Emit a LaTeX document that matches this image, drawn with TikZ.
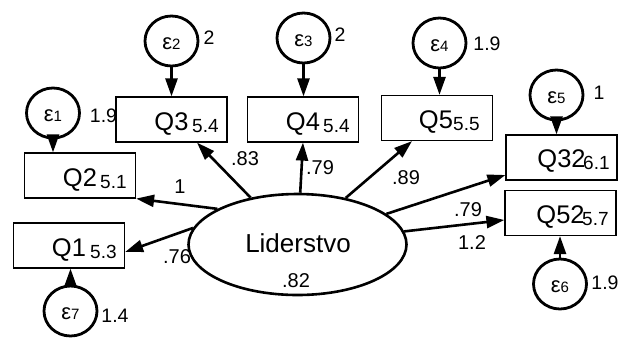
\documentclass[tikz,border=0pt]{standalone}
\usepackage{fontspec}
\setmainfont{Liberation Sans}
\usetikzlibrary{arrows.meta,shapes.geometric}
\begin{document}
\begin{tikzpicture}[x=1pt,y=-1pt,
  box/.style={draw, line width=1.2pt, minimum width=111pt, minimum height=45pt, inner sep=0pt},
  errc/.style={draw, ellipse, line width=2.8pt, minimum width=53pt, minimum height=50pt, inner sep=0pt, text height=16pt, text depth=0pt},
  latent/.style={draw, ellipse, line width=2.6pt, minimum width=218pt, minimum height=101pt, inner sep=0pt},
  arr/.style={line width=2.6pt, -{Triangle[length=18pt,width=12pt]}},
  big/.style={font=\fontsize{25.5}{25.5}\selectfont, inner sep=0pt},
  num/.style={font=\fontsize{19}{19}\selectfont, inner sep=0pt},
  coef/.style={font=\fontsize{20}{20}\selectfont, inner sep=0pt},
  var/.style={font=\fontsize{19.5}{19.5}\selectfont, inner sep=0pt},
]
\newcommand{\eps}[1]{{\fontsize{22}{22}\selectfont ε}{\fontsize{15}{15}\selectfont #1}}
\useasboundingbox (0,0) rectangle (620,338);

% observed boxes
\node[box] (Q3) at (171.5,119.5) {};
\node[box] (Q4) at (303,119.5) {};
\node[box] (Q5) at (437,118) {};
\node[box] (Q2) at (80,175.5) {};
\node[box] (Q1) at (69,245.5) {};
\node[box] (Q32) at (561.5,157.5) {};
\node[box] (Q52) at (560.5,213) {};

\node[big, anchor=base] (Q3t) at (171.5,130) {Q3};
\node[num, anchor=base west] (Q3n) at (192,132) {5.4};
\node[big, anchor=base] (Q4t) at (303,130) {Q4};
\node[num, anchor=base west] (Q4n) at (323,132) {5.4};
\node[big, anchor=base] (Q5t) at (436,128.5) {Q5};
\node[num, anchor=base west] (Q5n) at (453,130.5) {5.5};
\node[big, anchor=base] (Q2t) at (80,186) {Q2};
\node[num, anchor=base west] (Q2n) at (100,188) {5.1};
\node[big, anchor=base] (Q1t) at (69,256) {Q1};
\node[num, anchor=base west] (Q1n) at (90,258) {5.3};
\node[big, anchor=base] (Q32t) at (561.5,167.5) {Q32};
\node[num, anchor=base west] (Q32n) at (583,169.5) {6.1};
\node[big, anchor=base] (Q52t) at (560.5,223.5) {Q52};
\node[num, anchor=base west] (Q52n) at (582,225.5) {5.7};

% latent
\node[latent] (L) at (297.5,244.5) {};
\node[font=\fontsize{26}{26}\selectfont, inner sep=0pt, anchor=base] (Lt) at (298,252) {Liderstvo};
\node[coef, anchor=base] (Lv) at (296,287) {.82};

% error terms
\node[errc] (e1) at (53,113) {\eps{1}};
\node[errc] (e2) at (171.5,41) {\eps{2}};
\node[errc] (e3) at (303.5,38) {\eps{3}};
\node[errc] (e4) at (439.5,43) {\eps{4}};
\node[errc] (e5) at (556.5,95) {\eps{5}};
\node[errc] (e6) at (560,284) {\eps{6}};
\node[errc] (e7) at (70.5,311) {\eps{7}};

\node[var] (v1) at (103.5,115.5) {1.9};
\node[var] (v2) at (209,37.5) {2};
\node[var] (v3) at (340,35) {2};
\node[var] (v4) at (487,44) {1.9};
\node[var] (v5) at (599,93) {1};
\node[var] (v6) at (605,283) {1.9};
\node[var] (v7) at (115,316) {1.4};

\draw[arr] (e1.south) -- (e1.south |- Q2.north);
\draw[arr] (e2.south) -- (e2.south |- Q3.north);
\draw[arr] (e3.south) -- (e3.south |- Q4.north);
\draw[arr] (e4.south) -- (e4.south |- Q5.north);
\draw[arr] (e5.south) -- (e5.south |- Q32.north);
\draw[arr] (e6.north) -- (e6.north |- Q52.south);
\draw[arr] (e7.north) -- (e7.north |- Q1.south);

% loadings
\draw[arr] (L.135.6) -- ([xshift=25.5pt]Q3.south);
\draw[arr] (L.87) -- (Q4.south);
\draw[arr] (L.44.5) -- ([xshift=-25pt]Q5.south);
\draw[arr] (L.19) -- ([yshift=-17.5pt]Q32.west);
\draw[arr] (L.7.5) -- ([yshift=-7pt]Q52.west);
\draw[arr] (L.156.8) -- (Q2.south east);
\draw[arr] (L.171) -- ([yshift=-6.5pt]Q1.east);

\node[coef] (c3) at (245,158.5) {.83};
\node[coef] (c4) at (320,168) {.79};
\node[coef] (c5) at (406,177.5) {.89};
\node[coef] (c2) at (180,187) {1};
\node[coef] (c1) at (177,257) {.76};
\node[coef] (c32) at (468,210) {.79};
\node[coef] (c52) at (472,243) {1.2};
\end{tikzpicture}
\end{document}
